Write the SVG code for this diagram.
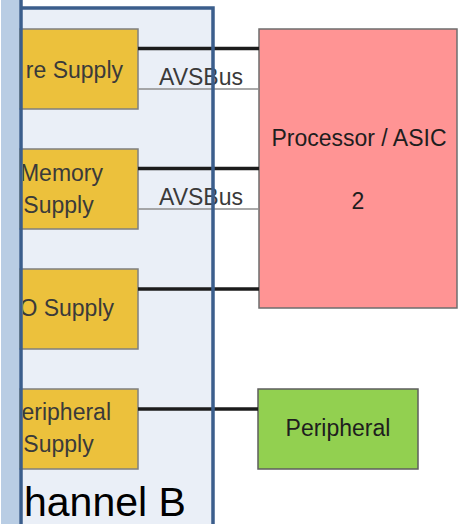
<svg xmlns="http://www.w3.org/2000/svg" width="460" height="524" viewBox="0 0 460 524">
<style>
.sup{fill:#ECC13C;stroke:#7F7F7F;stroke-width:1.5}
.t{font-family:"Liberation Sans",Arial,sans-serif;font-size:23px;fill:#3A3A3A}
.tk{font-family:"Liberation Sans",Arial,sans-serif;font-size:23px;fill:#1E1E1E}
.pw{stroke:#1C1C1C;stroke-width:3.5;fill:none}
.bus{stroke:#8C8C8C;stroke-width:1.5;fill:none}
.border{stroke:#3B5E8C;stroke-width:3.5;fill:none}
</style>
<defs>
<clipPath id="inside"><rect x="23" y="0" width="200" height="524"/></clipPath>
</defs>
<rect x="0" y="0" width="460" height="524" fill="#FFFFFF"/>
<g id="channel-b">
<rect x="21" y="8" width="192" height="530" fill="#EAEFF7"/>
</g>
<g id="core-supply">
<rect class="sup" x="10" y="29" width="128" height="80"/>
<text class="t" x="123" y="78" text-anchor="end" clip-path="url(#inside)">re Supply</text>
</g>
<g id="memory-supply">
<rect class="sup" x="10" y="149" width="128" height="80"/>
<g clip-path="url(#inside)">
<text class="t" x="103" y="181" text-anchor="end">Memory</text>
<text class="t" x="58.5" y="213" text-anchor="middle">Supply</text>
</g>
</g>
<g id="io-supply">
<rect class="sup" x="10" y="269" width="128" height="80"/>
<text class="t" x="114" y="316" text-anchor="end" clip-path="url(#inside)">O Supply</text>
</g>
<g id="peripheral-supply">
<rect class="sup" x="10" y="389" width="128" height="80"/>
<g clip-path="url(#inside)">
<text class="t" x="111" y="420" text-anchor="end">eripheral</text>
<text class="t" x="58.5" y="452" text-anchor="middle">Supply</text>
</g>
</g>
<g id="processor">
<rect x="259" y="29" width="198" height="279" fill="#FF9494" stroke="#6E6E6E" stroke-width="1.5"/>
<text class="tk" x="359" y="146" text-anchor="middle">Processor / ASIC</text>
<text class="tk" x="358" y="209" text-anchor="middle">2</text>
</g>
<g id="peripheral">
<rect x="258" y="389" width="160" height="80" fill="#92D050" stroke="#5E5E5E" stroke-width="1.5"/>
<text class="tk" x="338" y="436" text-anchor="middle">Peripheral</text>
</g>
<g id="connectors">
<line class="pw" x1="138" y1="48.5" x2="259" y2="48.5"/>
<line class="bus" x1="138" y1="89" x2="259" y2="89"/>
<text class="t" x="159" y="85" font-size="22">AVSBus</text>
<line class="pw" x1="138" y1="168.5" x2="259" y2="168.5"/>
<line class="bus" x1="138" y1="209" x2="259" y2="209"/>
<text class="t" x="159" y="205" font-size="22">AVSBus</text>
<line class="pw" x1="138" y1="289" x2="259" y2="289"/>
<line class="pw" x1="138" y1="409" x2="258" y2="409"/>
</g>
<g id="channel-b-frame">
<rect x="1" y="0" width="18.5" height="524" fill="#B9CDE4"/>
<line class="border" x1="21" y1="0" x2="21" y2="524"/>
<polyline class="border" points="21,8 213,8 213,524"/>
<text x="24" y="516" font-family="'Liberation Sans',Arial,sans-serif" font-size="41" fill="#000000">hannel B</text>
</g>
</svg>
